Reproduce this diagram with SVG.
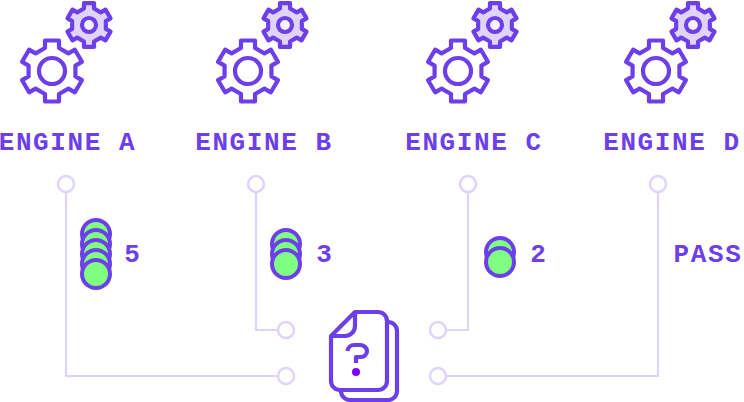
<svg xmlns="http://www.w3.org/2000/svg" width="744" height="402" viewBox="0 0 744 402">
<style>
.t{font-family:"Liberation Mono","DejaVu Sans Mono",monospace;font-weight:700;font-size:26px;letter-spacing:1.6px;fill:#6C3FEA;text-anchor:middle}
.n{letter-spacing:0}
.g{fill:none;stroke:#6C3FEA;stroke-width:4.2;stroke-linejoin:round}
.s{fill:#E0D4FA;stroke:#6C3FEA;stroke-width:5.8;stroke-linejoin:round}
.ic{fill:#F5F3FC;stroke:#6C3FEA;stroke-width:4.2}
.c{fill:#fff;stroke:#DFD3FB;stroke-width:2.4}
.l{fill:none;stroke:#DFD3FB;stroke-width:2.2}
.b{fill:#80FF80;stroke:#6C3FEA;stroke-width:4}
</style>
<defs>
<path id="gear" d="M-7-23V-30.5H7V-23L16.42-17.56 22.91-21.31 29.91-9.19 23.42-5.44V5.44L29.91 9.19 22.91 21.31 16.42 17.56 7 23V30.5H-7V23L-16.42 17.56-22.91 21.31-29.91 9.19-23.42 5.44V-5.44L-29.91-9.19-22.91-21.31-16.42-17.56Z"/>
<g id="gears">
<use href="#gear" class="g" transform="translate(52 71)"/>
<circle class="g" cx="52" cy="71" r="13"/>
<use href="#gear" class="s" transform="translate(89 25) scale(.72)"/>
<circle class="ic" cx="89" cy="25" r="7"/>
</g>
</defs>
<g id="connectors">
<path class="l" d="M66 192V376H278"/>
<path class="l" d="M256 192V330H278"/>
<path class="l" d="M468 192V330H430"/>
<path class="l" d="M658 192V376H430"/>
</g>
<g id="engine-a">
<use href="#gears"/>
<text class="t" x="67.500" y="150">ENGINE A</text>
<circle class="c" cx="66" cy="184" r="8"/>
</g>
<g id="engine-b">
<use href="#gears" x="196"/>
<text class="t" x="264" y="150">ENGINE B</text>
<circle class="c" cx="256" cy="184" r="8"/>
</g>
<g id="engine-c">
<use href="#gears" x="406"/>
<text class="t" x="474" y="150">ENGINE C</text>
<circle class="c" cx="468" cy="184" r="8"/>
</g>
<g id="engine-d">
<use href="#gears" x="604"/>
<text class="t" x="672" y="150">ENGINE D</text>
<circle class="c" cx="658" cy="184" r="8"/>
</g>
<g id="count-a">
<circle class="b" cx="96" cy="234" r="14"/><circle class="b" cx="96" cy="244" r="14"/><circle class="b" cx="96" cy="254" r="14"/><circle class="b" cx="96" cy="264" r="14"/><circle class="b" cx="96" cy="274" r="14"/>
<text class="t n" x="132" y="262">5</text>
</g>
<g id="count-b">
<circle class="b" cx="286" cy="244" r="14"/><circle class="b" cx="286" cy="254" r="14"/><circle class="b" cx="286" cy="264" r="14"/>
<text class="t n" x="324" y="262">3</text>
</g>
<g id="count-c">
<circle class="b" cx="500" cy="252" r="14"/><circle class="b" cx="500" cy="262" r="14"/>
<text class="t n" x="538" y="262">2</text>
</g>
<g id="pass"><text class="t" x="708" y="262">PASS</text></g>
<g id="ports">
<circle class="c" cx="286" cy="330" r="8"/>
<circle class="c" cx="286" cy="376" r="8"/>
<circle class="c" cx="438" cy="330" r="8"/>
<circle class="c" cx="438" cy="376" r="8"/>
</g>
<g id="document">
<path class="g" stroke-linecap="round" d="M388 322a9 9 0 0 1 9 9V391a9 9 0 0 1-9 9H350a9 9 0 0 1-9-9"/>
<path class="g" d="M355 312H378a9 9 0 0 1 9 9V381a9 9 0 0 1-9 9H340a9 9 0 0 1-9-9V336Z"/>
<path class="g" d="M355 312V326a10 10 0 0 1-10 10H331"/>
<path class="g" d="M347.500 351C348 347 351 345 354 345H360C364 345 367 348 367 351C367 355 364 357 360 357H356V363"/>
<circle cx="356" cy="372" r="4" fill="#8000FF"/>
</g>
</svg>
